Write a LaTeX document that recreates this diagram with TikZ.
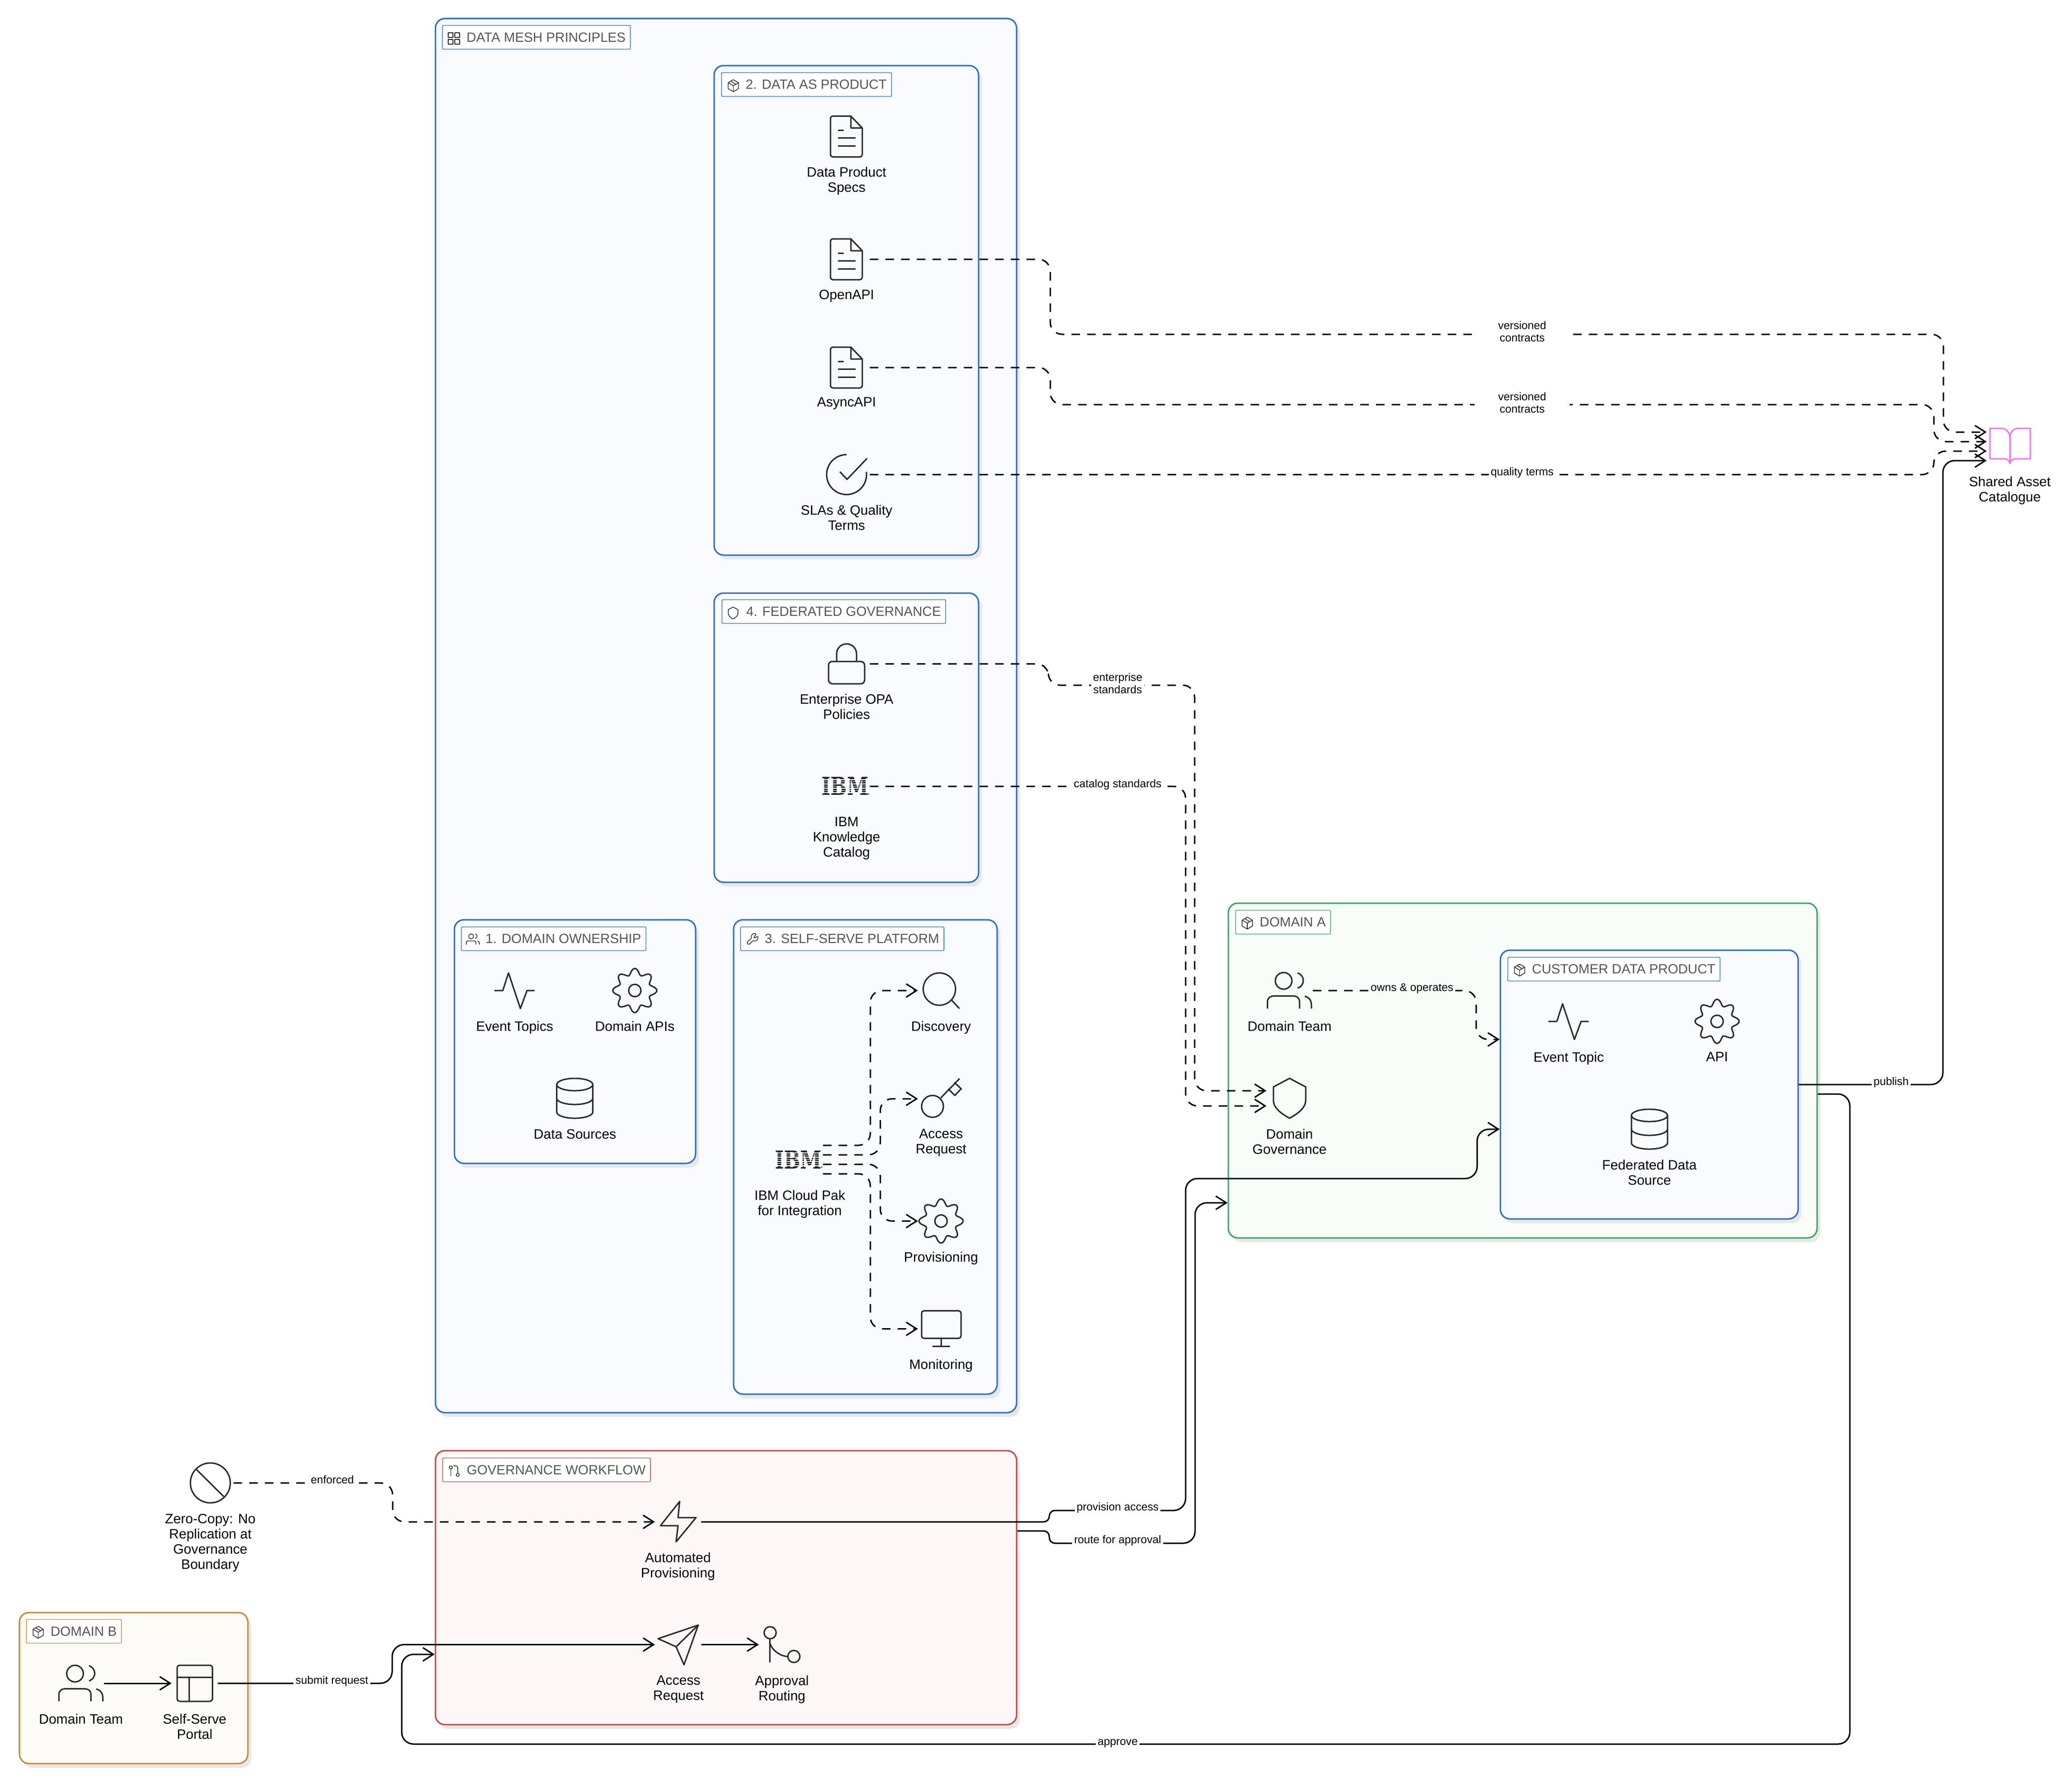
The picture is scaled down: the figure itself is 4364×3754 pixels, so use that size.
\documentclass[tikz,border=0pt]{standalone}
\usepackage{graphicx}
\usepackage{fontspec}
\setmainfont{Liberation Sans}
\newfontfamily\ibmfont{DejaVu Serif}
\usetikzlibrary{arrows.meta,fit,shadows}

\definecolor{meshblue}{HTML}{2B6CC9}
\definecolor{meshfill}{HTML}{F8FAFE}
\definecolor{domgreen}{HTML}{3AA65F}
\definecolor{domgreenfill}{HTML}{F7FCF8}
\definecolor{wfred}{HTML}{C94545}
\definecolor{wfredfill}{HTML}{FDF8F8}
\definecolor{domorange}{HTML}{C88A2E}
\definecolor{domorangefill}{HTML}{FCFBF7}
\definecolor{iconink}{HTML}{2A2A2A}
\definecolor{tagink}{HTML}{555555}
\definecolor{bookpink}{HTML}{E879F0}

\newcommand{\lblfont}{\fontsize{8.15}{9.1}\selectfont}
\newcommand{\edgefont}{\fontsize{6.65}{7.4}\selectfont}
\newcommand{\tagfont}{\fontsize{8}{9}\selectfont}

\tikzset{
  groupbox/.style n args={2}{draw=#1, fill=#2, line width=.3mm, rounded corners=2mm, inner sep=0pt,
    drop shadow={shadow xshift=.7mm, shadow yshift=-.9mm, opacity=1, fill=black!9}},
  tagbox/.style={draw=#1, fill=white, line width=.13mm, rounded corners=.2mm, anchor=west, inner xsep=1mm,
    inner ysep=0pt, minimum height=5mm, text=tagink, font=\tagfont, execute at begin node={\hspace*{4.1mm}}},
  iconnode/.style={minimum size=9.6mm, inner sep=0pt},
  icon/.style={draw=iconink, line width=.3mm, line join=round},
  tagicon/.style={draw=iconink, line width=.15mm, line join=round, scale=.3},
  lbl/.style={font=\lblfont, align=center, inner sep=0pt, text=black, yshift=-.3mm,
    execute at begin node={\vphantom{Ag}}, execute at end node={\vphantom{g}}},
  edgelbl/.style={font=\edgefont, align=center, fill=white, inner xsep=.4mm, inner ysep=.1mm, text=black,
    execute at begin node={\vphantom{Ag}}, execute at end node={\vphantom{g}}},
  flow/.style={draw=black, line width=.3mm, rounded corners=2.5mm, -{Straight Barb[length=2.2mm,width=2.8mm]}},
  flowdash/.style={flow, dash pattern=on 1.8mm off 1.5mm},
  docicon/.pic={
    \draw[rounded corners=.5mm] (9,-43) -- (-34,-43) -- (-34,43) -- (33,43) -- (33,-18);
    \draw (9,-43) -- (33,-18) -- (9,-18) -- cycle;
    \draw (-18,-13) -- (-6,-13);
    \draw (-18,3) -- (19,3);
    \draw (-18,20) -- (19,20);
  },
  checkicon/.pic={
    \draw (0,-42) arc (90:368:4.2mm);
    \draw (-14,-6) -- (1,10) -- (43,-34);
  },
  lockicon/.pic={
    \draw[rounded corners=.8mm] (-38,-5) rectangle (38,42);
    \draw (-21,-5) -- (-21,-21) arc (180:0:2.1mm) -- (21,-5);
  },
  ibmlogo/.pic={
    \node[inner sep=0pt, text depth=0pt, text=black!85] (-text) at (-3,0)
      {\ibmfont\bfseries\fontsize{14.8}{16}\selectfont\scalebox{.78}[1]{IBM}};
    \foreach \k in {-14,-9.5,-5,-.5,4,8.5,13}
      \fill[meshfill] (-54,\k-.9) rectangle (46,\k+.9);
    \fill[black!70] (46,16) circle (.18mm);
  },
  usersicon/.pic={
    \draw (-12.5,-20.4) circle (1.75mm);
    \draw (17,-37) .. controls (33,-31) and (33,-11) .. (17,-5);
    \draw (-46.5,38) -- (-46.5,24) .. controls (-46.5,15) and (-40,11.6) .. (-34,11.6)
      -- (8,11.6) .. controls (15,11.6) and (21,15) .. (21,24) -- (21,38);
    \draw (32,12) .. controls (41,14) and (46,21) .. (46,30) -- (46,38);
  },
  pulseicon/.pic={
    \draw (-43,0) -- (-25,0) -- (-13,-37) -- (12,38) -- (26,0) -- (42,0);
  },
  gearicon/.pic={
    \draw plot[domain=0:360,samples=97,smooth] (\x:{40+6.5*cos(8*\x)});
    \draw (0,0) circle (1.3mm);
  },
  dbicon/.pic={
    \draw (0,-29) ellipse (3.8mm and 1.3mm);
    \draw (-38,-29) -- (-38,29) arc (180:360:3.8mm and 1.3mm) -- (38,-29);
    \draw (-38,0) arc (180:360:3.8mm and 1.3mm);
  },
  searchicon/.pic={
    \draw (-3.5,-3) circle (3.4mm);
    \draw (22,20) -- (38.6,38);
  },
  keyicon/.pic={
    \draw (-18,16) circle (2.3mm);
    \draw (-.4,-2) -- (39,-42.5);
    \draw (28,-34.4) -- (42.4,-21) -- (29,-7) -- (15,-21);
  },
  monitoricon/.pic={
    \draw[rounded corners=.5mm] (-41,-38) rectangle (42,20);
    \draw (0,20) -- (0,37);
    \draw (-18,37) -- (19,37);
  },
  shieldicon/.pic={
    \draw (0,-42) -- (34,-24) -- (34,4) .. controls (34,22) and (14,34) .. (0,42)
      .. controls (-14,34) and (-34,22) .. (-34,4) -- (-34,-24) -- cycle;
  },
  bookicon/.pic={
    \draw (0,-18) .. controls (0,-30) and (-8,-38) .. (-18,-38) -- (-42,-38) -- (-42,26) -- (-14,26)
      .. controls (-6,26) and (0,30) .. (0,37);
    \draw (0,-18) .. controls (0,-30) and (8,-38) .. (18,-38) -- (43,-38) -- (43,26) -- (14,26)
      .. controls (6,26) and (0,30) .. (0,37);
    \draw (0,-18) -- (0,37);
  },
  noicon/.pic={
    \draw (0,0) circle (4.2mm);
    \draw (-29,-28) -- (28,28.5);
  },
  bolticon/.pic={
    \draw (3.5,-43) -- (-37,8) -- (0,8) -- (-4,42) -- (38,-9) -- (0,-9) -- cycle;
  },
  planeicon/.pic={
    \draw (42.5,-41) -- (-42,-12.5) -- (-4,4.5) -- (12.6,42.5) -- cycle;
    \draw (-4,4.5) -- (42.5,-41);
  },
  routingicon/.pic={
    \draw (-25,-25) circle (1.27mm);
    \draw (25,25) circle (1.27mm);
    \draw (-26,-12.5) -- (-26,37.5);
    \draw (-26,-6.5) .. controls (-24,10) and (-4,25) .. (12.5,25);
  },
  portalicon/.pic={
    \draw[rounded corners=.6mm] (-37,-38) rectangle (37.5,38);
    \draw (-37,-13) -- (37.5,-13);
    \draw (-12,-13) -- (-12,38);
  },
  gridicon/.pic={
    \foreach \a in {-40,7} \foreach \b in {-40,7}
      \draw (\a,\b) rectangle (\a+33,\b+33);
  },
  cubeicon/.pic={
    \draw (0,-42) -- (36,-21) -- (36,21) -- (0,42) -- (-36,21) -- (-36,-21) -- cycle;
    \draw (-36,-21) -- (0,0) -- (36,-21);
    \draw (0,0) -- (0,42);
    \draw (-18,-31) -- (18,-10);
  },
  wrenchicon/.pic={
    \draw[rounded corners=.3mm] (-40,24) -- (-4,-8) .. controls (-10,-28) and (10,-46) .. (30,-36)
      -- (10,-16) -- (18,-6) -- (38,-24) .. controls (44,0) and (24,16) .. (6,8) -- (-26,40) -- cycle;
  },
  branchicon/.pic={
    \draw (-22,-22) circle (1.1mm);
    \draw (27,30) circle (1.1mm);
    \draw (-22,-11) -- (-22,40);
    \draw (-5,-33) -- (15,-33) .. controls (22,-33) and (27,-28) .. (27,-20) -- (27,19);
  },
}

\begin{document}
\begin{tikzpicture}[x=0.01cm, y=-0.01cm]
  \useasboundingbox (0,0) rectangle (4364,3754);

  % group boxes
  \node[groupbox={meshblue}{meshfill}, fit={(917,39) (2141,2975)}] (mesh) {};
  \node[groupbox={meshblue}{meshfill}, fit={(1504,138) (2061,1169)}] (dataproduct) {};
  \node[groupbox={meshblue}{meshfill}, fit={(1504,1249) (2061,1858)}] (fedgov) {};
  \node[groupbox={meshblue}{meshfill}, fit={(957,1937) (1465,2450)}] (ownership) {};
  \node[groupbox={meshblue}{meshfill}, fit={(1545,1937) (2100,2936)}] (selfserve) {};
  \node[groupbox={domgreen}{domgreenfill}, fit={(2587,1902) (3827,2607)}] (domaina) {};
  \node[groupbox={meshblue}{meshfill}, fit={(3160,2001) (3787,2567)}] (customer) {};
  \node[groupbox={wfred}{wfredfill}, fit={(917,3055) (2141,3632)}] (workflow) {};
  \node[groupbox={domorange}{domorangefill}, fit={(41,3396) (522,3714)}] (domainb) {};

  % tags
  \node[tagbox=meshblue] (meshtag) at (931,78.5) {DATA MESH PRINCIPLES};
  \node[tagbox=meshblue] (producttag) at (1519,178) {2. DATA AS PRODUCT};
  \node[tagbox=meshblue] (fedgovtag) at (1520,1288) {4. FEDERATED GOVERNANCE};
  \node[tagbox=meshblue] (ownertag) at (971,1977) {1. DOMAIN OWNERSHIP};
  \node[tagbox=meshblue] (selftag) at (1559,1977) {3. SELF-SERVE PLATFORM};
  \node[tagbox=domgreen] (domatag) at (2601.5,1942) {DOMAIN A};
  \node[tagbox=meshblue] (customertag) at (3175,2041) {CUSTOMER DATA PRODUCT};
  \node[tagbox=wfred] (workflowtag) at (931.5,3095.5) {GOVERNANCE WORKFLOW};
  \node[tagbox=domorange] (dombtag) at (55,3435.5) {DOMAIN B};

  \pic[tagicon] at (956,81) {gridicon};
  \pic[tagicon] at (1544.5,180.5) {cubeicon};
  \pic[tagicon] at (1544,1291) {shieldicon};
  \pic[tagicon] at (996,1978) {usersicon};
  \pic[tagicon] at (1584.5,1978) {wrenchicon};
  \pic[tagicon] at (2627,1944) {cubeicon};
  \pic[tagicon] at (3200.5,2043) {cubeicon};
  \pic[tagicon] at (956,3097) {branchicon};
  \pic[tagicon] at (80.5,3437.5) {cubeicon};

  % icon nodes
  \node[iconnode] (specs) at (1783,287.5) {};
  \node[iconnode] (openapi) at (1783,546) {};
  \node[iconnode] (asyncapi) at (1783,774) {};
  \node[iconnode] (slas) at (1783,999.5) {};
  \node[iconnode] (opa) at (1783,1398) {};
  \node[iconnode] (ikc) at (1783,1656) {};
  \node[iconnode] (topics) at (1084,2086) {};
  \node[iconnode] (apis) at (1337,2086) {};
  \node[iconnode] (sources) at (1210.5,2313) {};
  \node[iconnode] (cloudpak) at (1684.6,2442) {};
  \node[iconnode] (discovery) at (1982,2086) {};
  \node[iconnode] (access) at (1982,2314) {};
  \node[iconnode] (provisioning) at (1982,2571.5) {};
  \node[iconnode] (monitoring) at (1982,2798.5) {};
  \node[iconnode] (domteam) at (2716,2086) {};
  \node[iconnode] (domgov) at (2716,2313) {};
  \node[iconnode] (topic) at (3304,2151) {};
  \node[iconnode] (api) at (3616.5,2151) {};
  \node[iconnode] (fedsource) at (3474,2378) {};
  \node[iconnode] (catalogue) at (4233,940) {};
  \node[iconnode] (zerocopy) at (443,3123) {};
  \node[iconnode] (autoprov) at (1428,3205) {};
  \node[iconnode] (accessreq) at (1428,3463.5) {};
  \node[iconnode] (routing) at (1647,3463.5) {};
  \node[iconnode] (teamb) at (170.5,3545) {};
  \node[iconnode] (portal) at (410,3545) {};

  \pic[icon] at (specs) {docicon};
  \pic[icon] at (openapi) {docicon};
  \pic[icon] at (asyncapi) {docicon};
  \pic[icon] at (slas) {checkicon};
  \pic[icon] at (opa) {lockicon};
  \pic (ikclogo) at (ikc) {ibmlogo};
  \pic[icon] at (topics) {pulseicon};
  \pic[icon] at (apis) {gearicon};
  \pic[icon] at (sources) {dbicon};
  \pic (cplogo) at (cloudpak) {ibmlogo};
  \pic[icon] at (discovery) {searchicon};
  \pic[icon] at (access) {keyicon};
  \pic[icon] at (provisioning) {gearicon};
  \pic[icon] at (monitoring) {monitoricon};
  \pic[icon] at (domteam) {usersicon};
  \pic[icon] at (domgov) {shieldicon};
  \pic[icon] at (topic) {pulseicon};
  \pic[icon] at (api) {gearicon};
  \pic[icon] at (fedsource) {dbicon};
  \pic[icon, draw=bookpink] at (catalogue) {bookicon};
  \pic[icon] at (zerocopy) {noicon};
  \pic[icon] at (autoprov) {bolticon};
  \pic[icon] at (accessreq) {planeicon};
  \pic[icon] at (routing) {routingicon};
  \pic[icon] at (teamb) {usersicon};
  \pic[icon] at (portal) {portalicon};

  % icon labels
  \node[lbl] (specslbl) at (1783,378) {Data Product\\Specs};
  \node[lbl] (openapilbl) at (1783,620.5) {OpenAPI};
  \node[lbl] (asyncapilbl) at (1783,847) {AsyncAPI};
  \node[lbl] (slaslbl) at (1783,1090) {SLAs \& Quality\\Terms};
  \node[lbl] (opalbl) at (1783,1488) {Enterprise OPA\\Policies};
  \node[lbl] (ikclbl) at (1783,1763) {IBM\\Knowledge\\Catalog};
  \node[lbl] (topicslbl) at (1084,2161) {Event Topics};
  \node[lbl] (apislbl) at (1337,2161) {Domain APIs};
  \node[lbl] (sourceslbl) at (1211,2388) {Data Sources};
  \node[lbl] (cloudpaklbl) at (1684.6,2533) {IBM Cloud Pak\\for Integration};
  \node[lbl] (discoverylbl) at (1982,2161) {Discovery};
  \node[lbl] (accesslbl) at (1982,2404) {Access\\Request};
  \node[lbl] (provisioninglbl) at (1982,2647) {Provisioning};
  \node[lbl] (monitoringlbl) at (1982,2873.5) {Monitoring};
  \node[lbl] (domteamlbl) at (2716,2161) {Domain Team};
  \node[lbl] (domgovlbl) at (2716,2404) {Domain\\Governance};
  \node[lbl] (topiclbl) at (3304,2226) {Event Topic};
  \node[lbl] (apilbl) at (3616.5,2226) {API};
  \node[lbl] (fedsourcelbl) at (3474,2469) {Federated Data\\Source};
  \node[lbl] (cataloguelbl) at (4233,1030.5) {Shared Asset\\Catalogue};
  \node[lbl] (zerocopylbl) at (443,3246) {Zero-Copy: No\\Replication at\\Governance\\Boundary};
  \node[lbl] (autoprovlbl) at (1428,3296) {Automated\\Provisioning};
  \node[lbl] (accessreqlbl) at (1429,3555) {Access\\Request};
  \node[lbl] (routinglbl) at (1647,3555) {Approval\\Routing};
  \node[lbl] (teamblbl) at (170.5,3620) {Domain Team};
  \node[lbl] (portallbl) at (410,3636) {Self-Serve\\Portal};

  % connectors
  \draw[flowdash] (openapi.east) -- (2212,546) -- (2212,704) -- (4093,704) -- (4093,910) -- (catalogue.west |- 0,910);
  \draw[flowdash] (asyncapi.east) -- (2212,774) -- (2212,852) -- (4073,852) -- (4073,930) -- (catalogue.west |- 0,930);
  \draw[flowdash] (slas.east) -- (4073,999.5) -- (4073,950) -- (catalogue.west |- 0,950);
  \draw[flow] (customer.east |- 0,2284) -- (4092,2284) -- (4092,970) -- (catalogue.west |- 0,970);
  \draw[flowdash] (opa.east) -- (2208,1398) -- (2208,1443) -- (2516,1443) -- (2516,2297) -- (domgov.west |- 0,2297);
  \draw[flowdash] (ikc.east) -- (2497,1656) -- (2497,2329) -- (domgov.west |- 0,2329);
  \draw[flowdash] (domteam.east) -- (3109,2086) -- (3109,2189) -- (customer.west |- 0,2189);
  \draw[flowdash] (cloudpak.east |- 0,2412) -- (1833,2412) -- (1833,2086) -- (discovery.west);
  \draw[flowdash] (cloudpak.east |- 0,2432) -- (1854,2432) -- (1854,2314) -- (access.west);
  \draw[flowdash] (cloudpak.east |- 0,2452) -- (1854,2452) -- (1854,2571.5) -- (provisioning.west);
  \draw[flowdash] (cloudpak.east |- 0,2472) -- (1833,2472) -- (1833,2798.5) -- (monitoring.west);
  \draw[flowdash] (zerocopy.east) -- (827,3123) -- (827,3205) -- (autoprov.west);
  \draw[flow] (autoprov.east) [rounded corners=1.2mm] -- (2210,3205) -- (2210,3181) [rounded corners=2.5mm] -- (2497,3181) -- (2497,2482) -- (3111,2482) -- (3111,2378) -- (customer.west |- 0,2378);
  \draw[flow] (workflow.east |- 0,3224) [rounded corners=1.2mm] -- (2210,3224) -- (2210,3250) [rounded corners=2.5mm] -- (2517,3250) -- (2517,2533) -- (domaina.west |- 0,2533);
  \draw[flow] (teamb.east) -- (portal.west);
  \draw[flow] (portal.east) -- (826,3545) -- (826,3463.5) -- (accessreq.west);
  \draw[flow] (accessreq.east) -- (routing.west);
  \draw[flow] (domaina.east |- 0,2304) -- (3896,2304) -- (3896,3673) -- (846,3673) -- (846,3484) -- (workflow.west |- 0,3484);

  % connector labels
  \node[edgelbl, minimum width=20mm, minimum height=5.2mm] (versioneda) at (3206,700) {versioned\\contracts};
  \node[edgelbl, minimum width=20mm, minimum height=5.2mm] (versionedb) at (3206,850) {versioned\\contracts};
  \node[edgelbl] (quality) at (3206,995) {quality terms};
  \node[edgelbl] (publish) at (3983,2279) {publish};
  \node[edgelbl] (enterprise) at (2354,1441) {enterprise\\standards};
  \node[edgelbl] (catalogstd) at (2354,1652) {catalog standards};
  \node[edgelbl, fill=domgreenfill] (owns) at (2974,2082) {owns \& operates};
  \node[edgelbl] (enforced) at (700,3118) {enforced};
  \node[edgelbl] (provaccess) at (2354,3175) {provision access};
  \node[edgelbl] (routeappr) at (2354,3244) {route for approval};
  \node[edgelbl] (submit) at (699,3540) {submit request};
  \node[edgelbl] (approve) at (2354,3670) {approve};
\end{tikzpicture}
\end{document}
